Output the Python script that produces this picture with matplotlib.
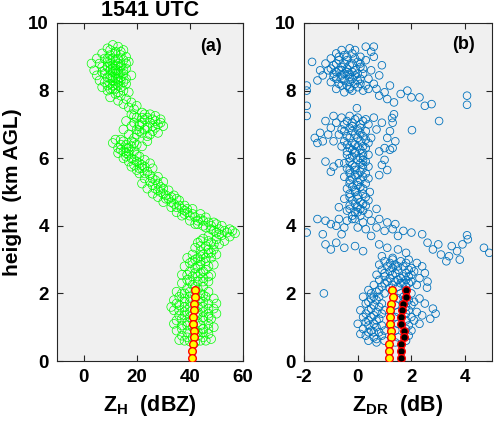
import matplotlib
matplotlib.use("Agg")
import matplotlib.pyplot as plt
import numpy as np

plt.rcParams['font.family'] = ['Liberation Sans', 'DejaVu Sans']
plt.rcParams['font.weight'] = 'bold'
plt.rcParams['mathtext.fontset'] = 'custom'
plt.rcParams['mathtext.rm'] = 'Liberation Sans:bold'
plt.rcParams['mathtext.default'] = 'rm'
plt.rcParams['axes.unicode_minus'] = False

# ---------------- Panel (a): Z_H (dBZ) vs height (km) ----------------
green_top = [(11,9.35),(13,9.3),(9,9.25),(15,9.2),(12,9.15),(7,9.1),(10,9.05),(14,9.05),(16,9.0),(5,8.95),
             (8,8.95),(12,8.9),(17,8.85),(3,8.8),(6,8.8),(10,8.8),(14,8.75),(9,8.7),(12,8.65),(16,8.65),
             (4,8.6),(7,8.55),(11,8.55),(13,8.5),(15,8.5),(18,8.45),(5,8.45),(9,8.4),(12,8.35),(14,8.3),
             (6,8.3),(8,8.25),(10,8.2),(16,8.2),(13,8.15),(7,8.1),(11,8.05),(15,8.0),(9,8.0),(17,7.95),
             (12,7.9),(14,7.85),(10,7.8),(16,7.75),(13,7.7),(18,7.65),(15,7.6),(20,7.55),(17,7.5),(19,7.45),
             (11,8.75),(13,8.6),(10,8.45),(12,8.2),(14,8.55),(9,8.85),(11,8.3),(13,8.95),(12,8.05),(10,8.6),
             (10,9.2),(12,9.1),(14,9.15),(9,8.95),(11,8.95),(15,8.9),(13,8.8),(7,8.7),(11,8.65),(15,8.6),
             (8,8.5),(12,8.5),(16,8.35),(10,8.35),(13,8.35),(14,8.1),(9,8.15),(11,8.15),(13,7.95),(15,8.25),
             (8,8.6),(10,8.9),(12,8.75),(14,8.4),(16,8.8),(12,8.6),(11,8.4),(13,8.25),(10,8.05),(14,8.7)]
green_blob = [(22,7.35),(25,7.3),(18,7.3),(27,7.25),(20,7.2),(23,7.15),(29,7.15),(16,7.1),(25,7.05),(21,7.0),
              (28,7.0),(18,6.95),(24,6.9),(30,6.95),(15,6.85),(20,6.85),(26,6.8),(22,6.75),(17,6.7),(28,6.75),
              (24,6.65),(19,6.6),(27,7.1),(23,7.3),(21,6.95),
              (19,7.25),(24,7.2),(26,7.15),(22,7.05),(19,7.05),(26,6.95),(23,6.85),(27,6.9),(21,6.8),(25,6.7),
              (20,6.7),(22,7.2),(29,7.05)]
green_bend = [(12,6.55),(15,6.5),(18,6.5),(11,6.45),(14,6.4),(20,6.4),(13,6.3),(17,6.3),(22,6.35),(15,6.2),
              (19,6.2),(13,6.15),(17,6.1),(21,6.05),(15,6.0),(19,5.95),(23,5.95),(17,5.9),(21,5.85),(25,5.85),
              (18,5.75),(22,5.7),(26,5.7),(20,5.65),(24,5.6),(16,6.05),(19,6.45),(24,6.5),
              (14,6.55),(16,6.4),(18,6.35),(14,6.25),(16,6.15),(18,6.0),(20,5.9),(22,5.8),(19,5.8),(23,5.75),
              (21,5.7),(17,6.2),(20,6.1),(16,6.3)]
green_slope = [(21,5.55),(25,5.5),(28,5.45),(23,5.4),(27,5.35),(30,5.3),(22,5.25),(26,5.2),(29,5.15),(24,5.1),
               (28,5.05),(32,5.05),(26,4.95),(30,4.95),(34,4.9),(28,4.85),(32,4.8),(36,4.75),(30,4.7),(34,4.65),
               (38,4.6),(33,4.55),(37,4.5),(41,4.5),(35,4.4),(39,4.4),(44,4.35),(37,4.3),(42,4.25),(46,4.25),
               (40,4.15),(45,4.15),(49,4.1),(43,4.05),(48,4.0),(52,4.0),(46,3.95),(51,3.9),(55,3.9),(49,3.85),
               (54,3.8),(57,3.78),(52,3.72),(47,3.7),(55,3.68),
               (23,5.55),(26,5.4),(25,5.3),(28,5.25),(27,5.1),(30,5.1),(29,5.0),(31,4.9),(33,4.85),(35,4.8),
               (33,4.7),(36,4.6),(35,4.55),(39,4.5),(38,4.35),(41,4.35),(40,4.3),(44,4.2),(43,4.15),(47,4.1),
               (45,4.0),(50,4.05),(48,3.9),(53,3.85),(50,3.8),(56,3.85),(51,3.75),(31,4.8),(38,4.45),(42,4.05)]
green_low = [(45,3.62),(50,3.6),(53,3.55),(43,3.5),(48,3.5),(51,3.45),(46,3.4),(42,3.35),(49,3.3),(44,3.25),
             (47,3.2),(41,3.15),(50,3.15),(44,3.1),(39,3.05),(48,3.05),(42,3.0),(46,2.95),(40,2.9),(44,2.85),
             (49,2.85),(38,2.8),(42,2.75),(46,2.7),(40,2.65),(44,2.6),(37,2.55),(48,2.55),(41,2.5),(45,2.45),
             (39,2.4),(43,2.35),(47,2.35),(37,2.3),(41,2.25),(45,2.2),(39,2.15),(43,2.12),
             (47,3.55),(49,3.45),(44,3.4),(47,3.3),(45,3.15),(43,3.05),(46,3.05),(41,2.95),(44,2.95),(43,2.8),
             (47,2.8),(42,2.6),(45,2.65),(39,2.55),(43,2.5),(47,2.5),(40,2.35),(45,2.35),(42,2.2),(40,2.05),
             (44,3.55),(48,3.2)]
green_base = [(35,2.05),(38,2.0),(44,2.0),(47,2.05),(36,1.9),(40,1.9),(46,1.9),(49,1.85),(34,1.8),(38,1.75),
              (43,1.8),(47,1.7),(36,1.65),(40,1.6),(45,1.6),(49,1.55),(34,1.5),(38,1.45),(43,1.45),(47,1.4),
              (36,1.35),(40,1.3),(45,1.3),(48,1.25),(35,1.2),(39,1.15),(43,1.15),(47,1.1),(37,1.05),(41,1.0),
              (45,0.95),(49,1.0),(35,0.9),(39,0.85),(43,0.85),(47,0.8),(37,0.75),(41,0.7),(45,0.7),(36,0.62),
              (40,0.58),(44,0.6),(48,0.65),(42,0.55),
              (37,2.0),(42,1.95),(45,1.95),(38,1.85),(44,1.85),(35,1.7),(40,1.75),(45,1.75),(38,1.6),(43,1.6),
              (47,1.55),(36,1.5),(40,1.45),(45,1.45),(38,1.35),(43,1.35),(47,1.3),(37,1.25),(41,1.2),(45,1.2),
              (39,1.05),(44,1.05),(47,0.95),(37,0.95),(42,0.9),(45,0.85),(39,0.7),(43,0.75),(38,0.6),(46,0.6),
              (34,1.1),(50,1.4),(33,1.6),(50,1.7)]

mean_height = [2.1, 1.9, 1.7, 1.5, 1.3, 1.1, 0.9, 0.7, 0.5, 0.3, 0.1]
mean_zh = [42.0, 41.8, 41.6, 41.4, 41.2, 41.2, 41.4, 41.6, 41.2, 40.8, 40.8]

# ---------------- Panel (b): Z_DR (dB) vs height (km) ----------------
blue_top = [(-0.6,9.2),(-0.3,9.25),(-0.1,9.2),(0.3,9.3),(0.6,9.3),(0.5,9.15),(-0.8,9.1),(-0.5,9.05),(-0.2,9.1),
            (0.1,9.0),(-1.0,8.95),(-0.7,8.9),(-0.4,8.9),(0.0,8.85),(0.3,8.9),(-1.7,8.85),(-1.2,8.8),(-0.9,8.75),
            (-0.6,8.7),(-0.3,8.75),(0.1,8.7),(0.9,8.75),(0.5,8.6),(-1.1,8.6),(-0.8,8.55),(-0.5,8.5),(-0.2,8.55),
            (0.2,8.5),(-1.3,8.45),(-0.9,8.4),(-0.6,8.35),(-0.3,8.4),(0.0,8.3),(0.4,8.35),(-1.0,8.25),(-0.7,8.2),
            (-0.4,8.15),(-0.1,8.2),(0.3,8.15),(0.6,8.2),(-1.9,8.15),(-1.9,8.0),(-0.8,8.05),(-0.2,8.0),(0.2,8.0),
            (-0.5,7.95),(0.7,8.05),(1.0,7.95),(1.2,8.15),(1.6,7.9),(1.85,8.0),(2.0,7.8),(2.3,7.8),(1.35,7.65),
            (2.5,7.55),(2.75,7.6),(0.8,7.85),(1.1,7.75),(-1.9,7.55),(-1.9,7.25),(4.07,7.85),(4.07,7.58),
            (3.03,7.1),(2.02,6.83),(-0.03,7.48),(1.28,7.19),(1.35,7.3),(-0.6,8.6),(-0.4,8.65),(-0.1,8.45),(-0.3,8.25),
            (-0.7,9.0),(-0.4,9.0),(-0.1,8.95),(-0.8,8.8),(-0.5,8.8),(-0.2,8.8),(0.1,8.8),(-1.0,8.65),(-0.7,8.6),
            (-0.4,8.55),(-0.1,8.6),(0.2,8.65),(-0.9,8.5),(-0.6,8.45),(-0.3,8.5),(0.0,8.5),(-0.8,8.35),(-0.5,8.3),
            (-0.2,8.35),(0.1,8.35),(-0.6,8.15),(-0.3,8.1),(0.0,8.1),(0.4,8.05),(-1.4,8.6),(-1.5,8.3),(0.8,8.45),
            (0.6,9.0),(-0.3,8.05),(0.1,8.2)]
blue_mid = [(-0.9,7.25),(-0.6,7.2),(-0.3,7.25),(0.0,7.2),(0.3,7.15),(0.6,7.2),(-1.2,7.1),(-0.8,7.05),(-0.5,7.0),
            (-0.2,7.05),(0.1,7.0),(0.4,7.0),(0.9,7.05),(1.3,7.05),(-1.0,6.9),(-0.6,6.85),(-0.3,6.9),(0.0,6.85),
            (0.3,6.8),(0.7,6.85),(1.2,6.8),(-1.4,6.75),(-1.1,6.7),(-0.7,6.7),(-0.4,6.65),(-0.1,6.7),(0.2,6.65),
            (0.5,6.6),(1.1,6.6),(-1.6,6.6),(-1.3,6.5),(-0.9,6.5),(-0.5,6.5),(-0.2,6.45),(0.1,6.5),(0.4,6.45),
            (1.4,6.5),(-1.5,6.45),(-0.6,6.35),(-0.3,6.3),(0.0,6.35),(0.3,6.3),(1.0,6.3),(-0.4,6.2),(-0.1,6.2),
            (0.2,6.15),(0.8,6.2),(1.2,6.25),
            (-0.4,7.1),(-0.1,7.15),(0.2,7.1),(-0.2,6.95),(0.1,6.9),(-0.5,6.8),(-0.2,6.8),(0.1,6.75),(-0.3,6.6),
            (0.0,6.6),(0.3,6.55),(-0.4,6.4),(-0.1,6.4),(0.2,6.35),(-0.2,6.25),(0.1,6.25)]
blue_column = [(-0.4,6.1),(-0.1,6.15),(0.2,6.05),(0.4,6.1),(-0.3,6.0),(0.0,5.95),(0.3,5.9),(-0.5,5.85),(-0.2,5.8),
               (0.1,5.85),(0.4,5.75),(-0.4,5.7),(-0.1,5.65),(0.2,5.7),(-0.3,5.55),(0.0,5.5),(0.3,5.55),(-0.5,5.45),
               (-0.2,5.4),(0.1,5.35),(0.4,5.4),(-0.3,5.25),(0.0,5.2),(0.3,5.25),(-0.4,5.1),(-0.1,5.05),(0.2,5.1),
               (0.45,5.0),(-0.3,4.95),(0.0,4.9),(0.3,4.85),(-0.5,4.8),(-0.2,4.75),(0.1,4.7),(0.4,4.75),(-0.3,4.6),
               (0.0,4.55),(0.3,4.6),(-0.4,4.45),(-0.1,4.4),(0.2,4.45),(-0.2,4.3),(0.1,4.3),(0.4,4.35),
               (-1.2,5.9),(-0.9,5.75),(-1.0,5.6),(-0.7,5.85),(0.9,5.8),(1.1,5.65),(0.8,5.5),(1.0,5.95),(1.3,6.3),
               (-0.7,4.55),(0.7,4.5),
               (-0.2,6.05),(0.1,6.0),(-0.3,5.9),(0.2,5.95),(-0.1,5.75),(0.2,5.8),(-0.3,5.65),(0.1,5.6),(-0.1,5.5),
               (0.2,5.45),(-0.3,5.35),(0.0,5.3),(-0.2,5.15),(0.1,5.15),(-0.1,5.0),(0.2,4.95),(-0.3,4.85),(0.0,4.8),
               (-0.1,4.65),(0.2,4.65),(-0.3,4.5),(0.1,4.5),(0.0,4.4),(-0.2,4.2)]
blue_spread = [(-1.5,4.2),(-1.2,4.15),(-1.0,4.05),(-0.7,4.2),(-0.4,4.15),(-0.1,4.2),(0.2,4.1),(0.5,4.15),(0.8,4.2),
               (1.1,4.1),(1.4,4.05),(-0.8,4.0),(-0.5,3.95),(0.0,3.95),(0.3,3.9),(0.7,3.95),(1.0,3.85),(1.3,3.9),
               (1.7,3.85),(2.0,3.8),(2.4,3.75),(-1.9,3.8),(-1.3,3.75),(-0.6,3.75),(0.5,3.7),(1.5,3.7),(4.07,3.72),
               (-1.2,3.45),(-0.8,3.5),(-0.5,3.35),(-0.1,3.4),(0.2,3.25),(-1.0,3.3),(0.8,3.45),(1.1,3.35),(1.5,3.3),
               (1.8,3.2),(0.9,3.1),(1.3,3.05),(2.8,3.3),(3.1,3.15),(3.4,3.1),(3.7,3.25),(3.9,3.45),(3.5,3.4),
               (3.0,3.45),(3.8,3.0),(3.3,2.95),(4.7,3.35),(4.9,3.2),(4.1,3.6),(2.6,3.5)]
blue_low = [(1.0,2.95),(1.3,3.0),(1.6,2.95),(1.9,3.0),(2.2,2.9),(0.8,2.85),(1.1,2.8),(1.4,2.85),(1.7,2.8),(2.0,2.75),
            (2.4,2.8),(0.9,2.7),(1.2,2.65),(1.5,2.7),(1.8,2.6),(2.1,2.65),(2.5,2.6),(0.7,2.55),(1.0,2.5),(1.3,2.55),
            (1.6,2.45),(1.9,2.5),(2.3,2.45),(0.8,2.4),(1.1,2.35),(1.4,2.35),(1.7,2.3),(2.0,2.35),(2.6,2.35),(0.6,2.25),
            (0.9,2.2),(1.5,2.2),(1.8,2.2),(2.2,2.25),(2.58,2.17),(-1.26,2.0),
            (0.4,2.1),(0.7,2.05),(1.0,2.0),(1.6,2.0),(2.0,2.0),(0.2,1.9),(0.5,1.85),(0.8,1.9),(1.5,1.85),(1.9,1.8),
            (2.3,1.85),(0.3,1.7),(0.6,1.65),(0.9,1.7),(1.4,1.65),(2.0,1.65),(2.5,1.7),(0.1,1.5),(0.4,1.5),(0.7,1.45),
            (1.0,1.5),(1.5,1.45),(1.9,1.5),(2.2,1.45),(2.8,1.55),(0.2,1.3),(0.5,1.3),(0.8,1.25),(1.4,1.3),(2.0,1.3),
            (2.4,1.35),(2.7,1.25),(0.0,1.1),(0.3,1.15),(0.6,1.1),(0.9,1.05),(1.5,1.1),(1.9,1.05),(2.3,1.1),(0.2,0.95),
            (0.5,0.9),(0.8,0.85),(1.4,0.9),(2.0,0.9),(0.3,0.75),(0.6,0.7),(0.9,0.75),(1.5,0.7),(1.9,0.75),(0.4,0.6),
            (0.7,0.55),(1.0,0.6),(1.4,0.55),(0.1,0.8),(2.9,1.4),
            (1.2,2.9),(1.5,2.8),(1.8,2.9),(1.3,2.75),(1.9,2.7),(1.0,2.6),(1.4,2.6),(1.7,2.5),(2.0,2.55),(1.2,2.45),
            (1.5,2.4),(1.8,2.4),(1.0,2.3),(1.3,2.25),(1.6,2.3),(1.9,2.3),(1.2,2.15),(0.5,2.0),(0.8,2.1),(1.8,2.05),
            (0.6,1.9),(1.7,1.9),(0.4,1.75),(0.7,1.8),(1.7,1.75),(2.1,1.75),(0.5,1.55),(0.8,1.6),(1.8,1.6),(0.3,1.4),
            (0.6,1.35),(0.9,1.4),(1.8,1.4),(0.4,1.2),(0.7,1.2),(1.8,1.2),(2.1,1.2),(0.4,1.05),(0.7,1.0),(1.8,0.95),
            (0.6,0.85),(1.0,0.9),(0.4,0.85),(1.8,0.6),(0.7,0.65)]

mean_zdr_yellow = [1.29, 1.30, 1.25, 1.21, 1.20, 1.20, 1.23, 1.23, 1.16, 1.16, 1.16]
mean_zdr_black = [1.81, 1.79, 1.70, 1.64, 1.62, 1.62, 1.72, 1.72, 1.60, 1.60, 1.60]

xticks_a = [0, 20, 40, 60]
xticks_b = [-2, 0, 2, 4]
yticks = [0, 2, 4, 6, 8, 10]

green = (0, 1, 0)
blue = '#0072BD'
bg = '#f0f0f0'

fig = plt.figure(figsize=(4.99, 4.30), dpi=100)
ax1 = fig.add_axes([57/499, 69/430, 186/499, 338/430])
ax2 = fig.add_axes([304/499, 69/430, 188/499, 338/430])

ga = np.array(green_top + green_blob + green_bend + green_slope + green_low + green_base)
ax1.scatter(ga[:, 0], ga[:, 1], s=40, facecolors='none', edgecolors=green, linewidths=0.5, zorder=2)
ax1.plot(mean_zh, mean_height, 'o', ms=5.5, mfc='yellow', mec='red', mew=1.0, zorder=3)

ba = np.array(blue_top + blue_mid + blue_column + blue_spread + blue_low)
ax2.scatter(ba[:, 0], ba[:, 1], s=30, facecolors='none', edgecolors=blue, linewidths=0.6, zorder=2)
ax2.plot(mean_zdr_yellow, mean_height, 'o', ms=5.5, mfc='yellow', mec='red', mew=1.0, zorder=3)
ax2.plot(mean_zdr_black, mean_height, 'o', ms=5.5, mfc='black', mec='red', mew=1.0, zorder=3)

for ax, xl, xt in [(ax1, (-10, 60), xticks_a), (ax2, (-2, 5), xticks_b)]:
    ax.set_facecolor(bg)
    ax.set_xlim(*xl)
    ax.set_ylim(0, 10)
    ax.set_xticks(xt)
    ax.set_yticks(yticks)
    ax.tick_params(direction='in', top=True, right=True, length=4, width=0.8,
                   labelsize=13.5, pad=6, color='#262626')
    for lab in ax.get_xticklabels() + ax.get_yticklabels():
        lab.set_fontweight('bold')
    for s in ax.spines.values():
        s.set_color('#262626')
        s.set_linewidth(0.8)

ax1.set_title('1541 UTC', fontsize=15.5, fontweight='bold', pad=5)
ax1.set_xlabel(r'$Z_H$  (dBZ)', fontsize=15.5, fontweight='bold', labelpad=5)
ax2.set_xlabel(r'$Z_{DR}$  (dB)', fontsize=15.5, fontweight='bold', labelpad=5)
ax1.set_ylabel('height  (km AGL)', fontsize=15, fontweight='bold', labelpad=4)
ax1.text(0.83, 0.93, '(a)', transform=ax1.transAxes, ha='center', va='center',
         fontsize=13, fontweight='bold')
ax2.text(0.846, 0.935, '(b)', transform=ax2.transAxes, ha='center', va='center',
         fontsize=13, fontweight='bold')

fig.savefig('out.png', dpi=100, facecolor='white')
